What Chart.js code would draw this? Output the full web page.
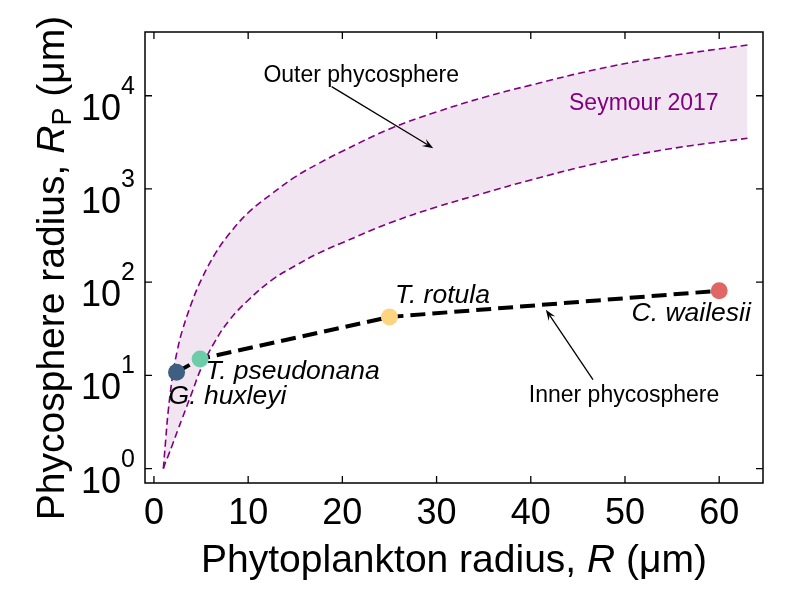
<!DOCTYPE html>
<html>
<head>
<meta charset="utf-8">
<title>Phycosphere radius</title>
<script src="https://cdn.jsdelivr.net/npm/chart.js@4.4.1/dist/chart.umd.min.js"></script>
<style>
    html, body { margin: 0; padding: 0; background: #fff; }
    #wrap { width: 786px; height: 597px; }
</style>
</head>
<body>
<div id="wrap"><canvas id="phyco-chart" width="786" height="597"></canvas></div>
<script>
// ------------ DATA ------------

// Seymour 2017 envelope (outer phycosphere)
const seymourR     = [1, 1.25, 1.5, 2, 2.5, 3, 4, 5, 6.5, 8, 10, 12.5, 15, 17.5, 20, 25, 30, 35, 40, 47, 54, 63];
const seymourUpper = [1.0, 2.05, 4.0, 10.2, 18.9, 30, 60, 105, 202, 330, 555, 886, 1350, 1880, 2540, 4400, 6700, 9600, 13000, 19200, 26000, 35000];
const seymourLower = [1.0, 1.18, 1.36, 1.85, 2.54, 3.45, 6.4, 11.8, 23.3, 39, 64, 105, 150, 205, 265, 430, 640, 900, 1250, 1880, 2620, 3500];

// inner phycosphere, one point per species
const species   = ['G. huxleyi', 'T. pseudonana', 'T. rotula', 'C. wailesii'];
const speciesR  = [2.4, 4.9, 25, 60];
const speciesRp = [10.8, 15.0, 42.3, 80.9];

// ticks
const xTicks = [0, 10, 20, 30, 40, 50, 60];
const yExponents = [0, 1, 2, 3, 4];

// ------------ STYLE ------------

const FONT = "'Liberation Sans', Arial, Helvetica, sans-serif";
const PURPLE = '#800080';
const speciesColors = ['#3e5f80', '#6dcdaa', '#fed480', '#e16666'];

// species labels: left edge and baseline in data units
const speciesLabelPos = [
    { x: 1.55, y: 4.97 },
    { x: 5.46, y: 9.15 },
    { x: 25.6, y: 59.7 },
    { x: 50.7, y: 37.9 }
];

// free text and arrows, in data units
const notes = [
    { text: 'Outer phycosphere', x: 22.0, y: 14160, color: '#000' },
    { text: 'Seymour 2017',      x: 52.0, y: 7050,  color: PURPLE },
    { text: 'Inner phycosphere', x: 49.9, y: 5.23,  color: '#000' }
];
const arrows = [
    { from: [18.86, 12530], to: [29.65, 2735] },
    { from: [46.6, 9.0],    to: [41.6, 50.6] }
];

function xy(list1, list2) {
    return list1.map(function(v, i) { return { x: v, y: list2[i] }; });
}

// draw runs of text with different fonts one after another
function drawRuns(ctx, runs, x, y, align) {
    var total = 0;
    runs.forEach(function(r) { ctx.font = r.font; r.w = ctx.measureText(r.t).width; total += r.w; });
    var cx = x;
    if (align === 'center') cx = x - total / 2;
    else if (align === 'right') cx = x - total;
    runs.forEach(function(r) {
        ctx.font = r.font;
        ctx.fillText(r.t, cx, y + (r.dy || 0));
        cx += r.w;
    });
}

// ------------ FRAME, TICKS, TEXT ------------

const decorPlugin = {
    id: 'decor',
    afterDraw: function(chart) {
        var ctx = chart.ctx;
        var a = chart.chartArea;
        var xs = chart.scales.x, ys = chart.scales.y;
        var tickLen = 7;

        ctx.save();
        ctx.strokeStyle = '#000';
        ctx.fillStyle = '#000';
        ctx.lineWidth = 1.5;
        ctx.strokeRect(a.left, a.top, a.right - a.left, a.bottom - a.top);

        ctx.lineWidth = 1.3;
        ctx.beginPath();
        xTicks.forEach(function(t) {
            var px = xs.getPixelForValue(t);
            ctx.moveTo(px, a.bottom); ctx.lineTo(px, a.bottom - tickLen);
            ctx.moveTo(px, a.top);    ctx.lineTo(px, a.top + tickLen);
        });
        yExponents.forEach(function(e) {
            var py = ys.getPixelForValue(Math.pow(10, e));
            ctx.moveTo(a.left, py);  ctx.lineTo(a.left + tickLen, py);
            ctx.moveTo(a.right, py); ctx.lineTo(a.right - tickLen, py);
        });
        ctx.stroke();

        // tick labels
        ctx.textBaseline = 'alphabetic';
        ctx.textAlign = 'left';
        xTicks.forEach(function(t) {
            drawRuns(ctx, [{ t: String(t), font: '36px ' + FONT }], xs.getPixelForValue(t), a.bottom + 41, 'center');
        });
        yExponents.forEach(function(e) {
            var py = ys.getPixelForValue(Math.pow(10, e));
            drawRuns(ctx, [
                { t: '10', font: '36px ' + FONT, dy: 24 },
                { t: String(e), font: '25px ' + FONT, dy: -2 }
            ], a.left - 10, py, 'right');
        });

        // axis titles
        drawRuns(ctx, [
            { t: 'Phytoplankton radius, ', font: '39px ' + FONT },
            { t: 'R', font: 'italic 39px ' + FONT },
            { t: ' (\u03bcm)', font: '39px ' + FONT }
        ], (a.left + a.right) / 2, a.bottom + 89, 'center');

        ctx.save();
        ctx.translate(64, 268);
        ctx.rotate(-Math.PI / 2);
        drawRuns(ctx, [
            { t: 'Phycosphere radius, ', font: '39px ' + FONT },
            { t: 'R', font: 'italic 39px ' + FONT },
            { t: 'P', font: '27px ' + FONT, dy: 7 },
            { t: ' (\u03bcm)', font: '39px ' + FONT }
        ], 0, 0, 'center');
        ctx.restore();

        // species names
        species.forEach(function(name, i) {
            var p = speciesLabelPos[i];
            drawRuns(ctx, [{ t: name, font: 'italic 26.5px ' + FONT }],
                xs.getPixelForValue(p.x), ys.getPixelForValue(p.y), 'left');
        });

        // notes
        notes.forEach(function(n) {
            ctx.fillStyle = n.color;
            drawRuns(ctx, [{ t: n.text, font: '23px ' + FONT }],
                xs.getPixelForValue(n.x), ys.getPixelForValue(n.y), 'center');
        });

        // arrows
        ctx.fillStyle = '#000';
        ctx.strokeStyle = '#000';
        ctx.lineWidth = 1.3;
        arrows.forEach(function(ar) {
            var x0 = xs.getPixelForValue(ar.from[0]), y0 = ys.getPixelForValue(ar.from[1]);
            var x1 = xs.getPixelForValue(ar.to[0]),   y1 = ys.getPixelForValue(ar.to[1]);
            var ang = Math.atan2(y1 - y0, x1 - x0);
            var hl = 11, hw = 4;
            ctx.beginPath();
            ctx.moveTo(x0, y0);
            ctx.lineTo(x1 - Math.cos(ang) * hl * 0.6, y1 - Math.sin(ang) * hl * 0.6);
            ctx.stroke();
            ctx.beginPath();
            ctx.moveTo(x1, y1);
            ctx.lineTo(x1 - Math.cos(ang) * hl - Math.sin(ang) * hw, y1 - Math.sin(ang) * hl + Math.cos(ang) * hw);
            ctx.lineTo(x1 - Math.cos(ang) * hl * 0.6, y1 - Math.sin(ang) * hl * 0.6);
            ctx.lineTo(x1 - Math.cos(ang) * hl + Math.sin(ang) * hw, y1 - Math.sin(ang) * hl - Math.cos(ang) * hw);
            ctx.closePath();
            ctx.fill();
        });
        ctx.restore();
    }
};

// ------------ CHART ------------

const data = {
    datasets: [
        {
            label: 'species',
            data: xy(speciesR, speciesRp),
            backgroundColor: speciesColors,
            pointRadius: 8.5,
            pointBorderWidth: 0,
            showLine: false,
            order: 0
        },
        {
            label: 'Inner phycosphere',
            data: xy(speciesR, speciesRp),
            borderColor: '#000',
            borderWidth: 4,
            borderDash: [15, 7],
            pointRadius: 0,
            showLine: true,
            tension: 0,
            order: 1
        },
        {
            label: 'Seymour upper',
            data: xy(seymourR, seymourUpper),
            borderColor: PURPLE,
            borderWidth: 1.6,
            borderDash: [7, 4],
            backgroundColor: 'rgba(128, 0, 128, 0.1)',
            fill: { target: 3 },
            pointRadius: 0,
            showLine: true,
            tension: 0.4,
            order: 2
        },
        {
            label: 'Seymour lower',
            data: xy(seymourR, seymourLower),
            borderColor: PURPLE,
            borderWidth: 1.6,
            borderDash: [7, 4],
            pointRadius: 0,
            showLine: true,
            fill: false,
            tension: 0.4,
            order: 3
        }
    ]
};

const config = {
    type: 'scatter',
    data: data,
    options: {
        responsive: false,
        animation: false,
        layout: { padding: { left: 145, right: 23, top: 32, bottom: 114 } },
        scales: {
            x: { type: 'linear', min: -0.95, max: 64.65, display: false },
            y: { type: 'logarithmic', min: 0.708, max: 48300, display: false }
        },
        plugins: {
            legend: { display: false },
            tooltip: { enabled: false }
        }
    },
    plugins: [decorPlugin]
};

var ctx = document.getElementById('phyco-chart').getContext('2d');
const phycoChart = new Chart(ctx, config);
</script>
</body>
</html>
